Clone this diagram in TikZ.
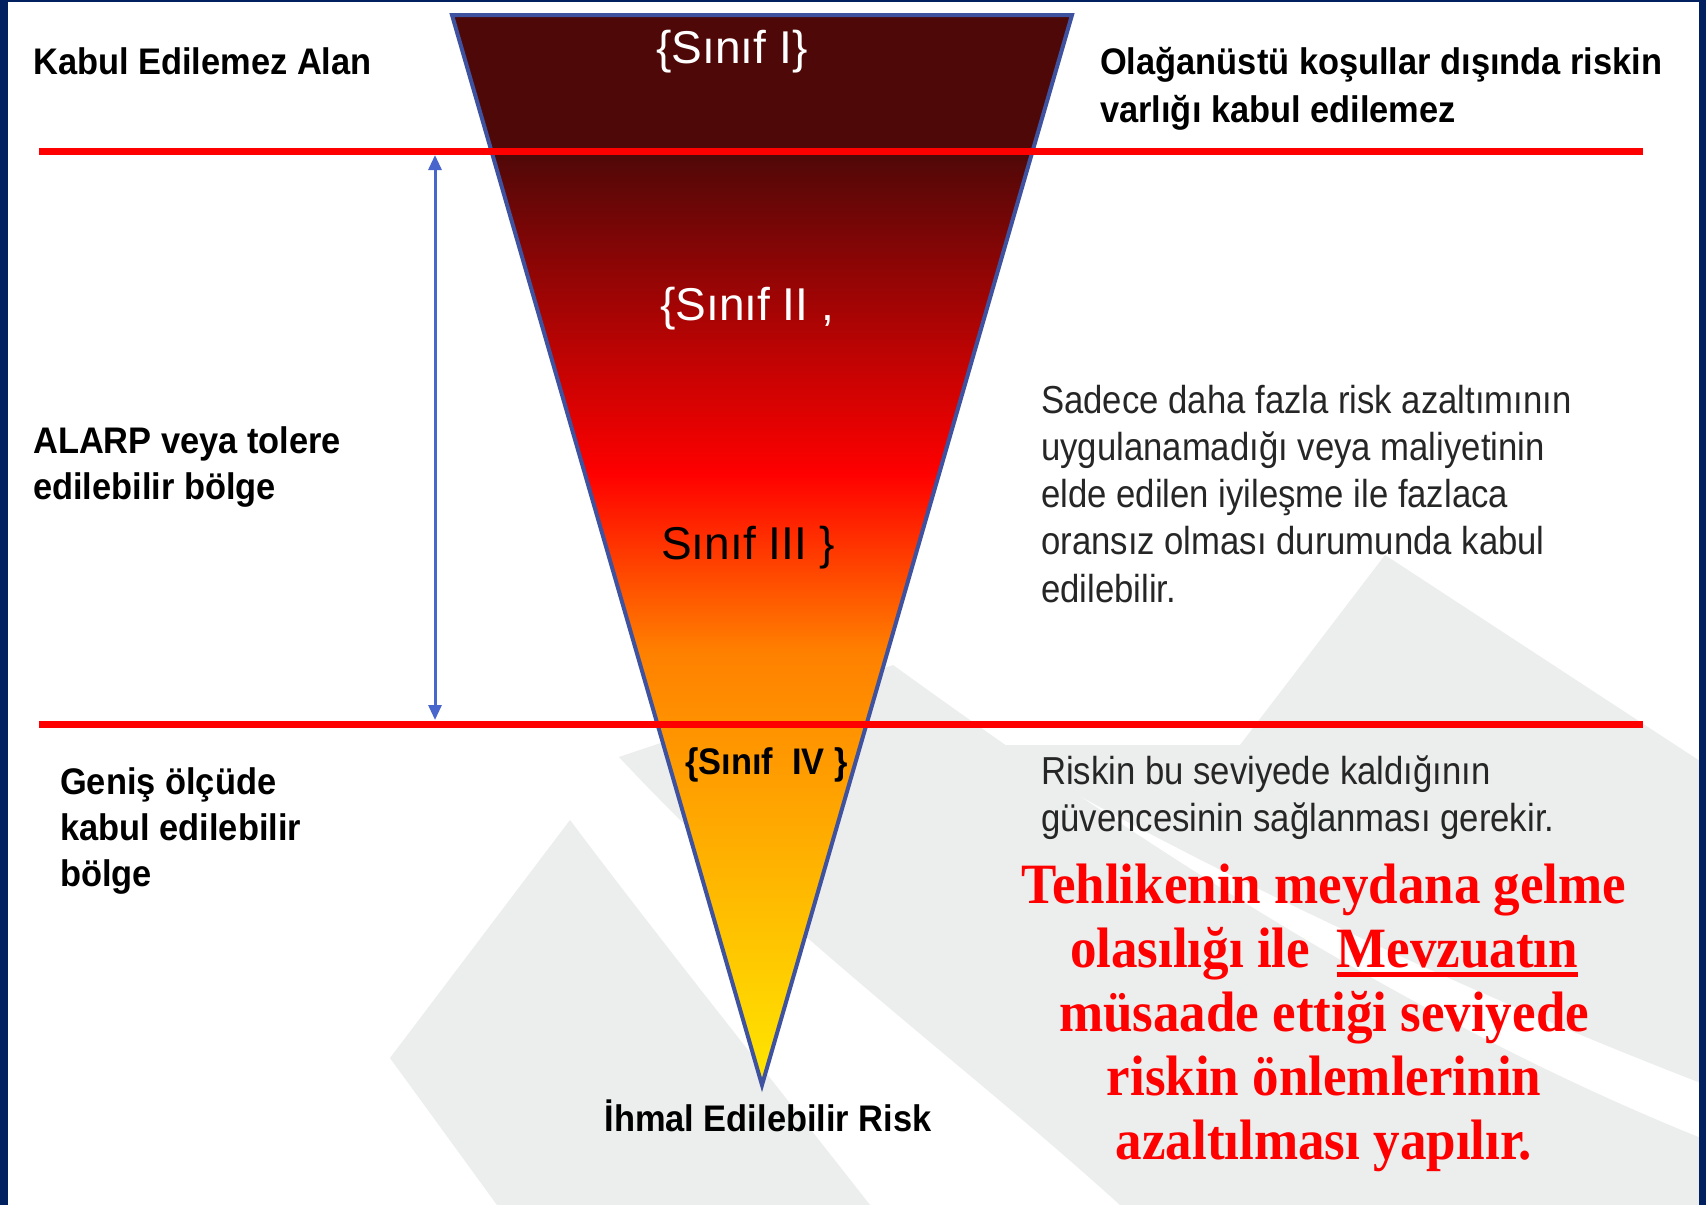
\documentclass[tikz,border=0pt]{standalone}
\usepackage{fontspec}
\setmainfont{Liberation Sans}
\newfontfamily\lblfont[FakeStretch=0.93]{Liberation Sans}
\newfontfamily\parafont[FakeStretch=0.89]{Liberation Sans}
\newfontfamily\notefont[FakeStretch=0.93]{Liberation Serif}
\usetikzlibrary{arrows.meta}

\definecolor{navy}{RGB}{0,32,96}
\definecolor{wmark}{RGB}{236,237,237}
\definecolor{triedge}{RGB}{62,82,160}
\definecolor{arrowblue}{RGB}{72,102,204}
\definecolor{maroon}{RGB}{78,8,8}
\definecolor{orangeA}{RGB}{255,128,0}
\definecolor{yellowA}{RGB}{255,232,0}

\tikzset{
	lbl/.style={font=\lblfont\bfseries\fontsize{37}{40}\selectfont, anchor=base west, inner sep=0pt},
	cls/.style={font=\fontsize{46}{50}\selectfont, anchor=base west, inner sep=0pt},
	para/.style={font=\parafont\fontsize{39}{44}\selectfont, text=black!85, anchor=base west, inner sep=0pt},
	note/.style={font=\notefont\bfseries\fontsize{57}{64}\selectfont, text=red, anchor=base, inner sep=0pt},
	level/.style={red, line width=7pt},
	span/.style={arrowblue, line width=3pt, {Triangle[length=15pt,width=13pt]}-{Triangle[length=15pt,width=13pt]}},
}

\begin{document}
\begin{tikzpicture}[x=1pt, y=-1pt]
	\useasboundingbox (0,0) rectangle (1706,1205);
	\fill[white] (0,0) rectangle (1706,1205);

	% underlined word
	\def\ulword#1{\setbox0=\hbox{#1}\rlap{\rule[-10pt]{\wd0}{5pt}}\box0}

	% watermark
	\fill[wmark] (390,1058) -- (570,820) .. controls (660,940) and (780,1090) .. (870,1205) -- (497,1205) -- cycle;
	\fill[wmark] (619,757) -- (893,665) .. controls (1080,800) and (1380,1010) .. (1706,1140) -- (1706,1205) -- (1120,1205) .. controls (960,1060) and (780,930) .. (619,757) -- cycle;
	\fill[wmark] (1385,555) -- (1706,765) -- (1706,1085) .. controls (1420,975) and (1150,840) .. (990,745) -- (1240,745) -- cycle;

	% frame
	\fill[navy] (0,0) rectangle (8,1205);
	\fill[navy] (0,0) rectangle (1706,2);
	\fill[navy] (1699,0) rectangle (1706,1205);

	% triangle
	\coordinate (tl) at (452,15);
	\coordinate (tr) at (1072,15);
	\coordinate (tip) at (762,1085);
	\begin{scope}
		\clip (tl) -- (tr) -- (tip) -- cycle;
		\foreach \ya/\ca/\yb/\cb in {10/maroon/151/maroon, 150/maroon/474/red, 473/red/651/orangeA, 650/orangeA/1090/yellowA}
			\shade[top color=\ca, bottom color=\cb] (440,\ya) rectangle (1090,\yb);
	\end{scope}
	\draw[triedge, line width=4pt] (tl) -- (tr) -- (tip) -- cycle;

	% levels
	\coordinate (l1w) at (39,151);
	\coordinate (l1e) at (1643,151);
	\coordinate (l2w) at (39,724);
	\coordinate (l2e) at (1643,724);
	\draw[level] (l1w) -- (l1e);
	\draw[level] (l2w) -- (l2e);

	% span arrow
	\coordinate (s1) at (435,155);
	\coordinate (s2) at (435,720);
	\draw[span] (s1) -- (s2);

	% left labels
	\node[lbl] (kabul) at (33,74) {Kabul Edilemez Alan};
	\foreach \txt [count=\i] in {ALARP veya tolere, edilebilir bölge}
		\node[lbl] (alarp\i) at (33,{453+46*(\i-1)}) {\txt};
	\foreach \txt [count=\i] in {Geniş ölçüde, kabul edilebilir, bölge}
		\node[lbl] (genis\i) at (60,{794+46*(\i-1)}) {\txt};
	\node[lbl, anchor=base] (ihmal) at (768,1131) {İhmal Edilebilir Risk};

	% classes
	\node[cls, text=white, anchor=base] (c1) at (732,63) {\{Sınıf I\}};
	\node[cls, text=white] (c2) at (660,320) {\{Sınıf II ,};
	\node[cls] (c3) at (661,559) {Sınıf III \}};
	\node[lbl] (c4) at (685,774) {\{Sınıf\ \ IV \}};

	% right texts
	\foreach \txt [count=\i] in {Olağanüstü koşullar dışında riskin, varlığı kabul edilemez}
		\node[lbl] (olag\i) at (1100,{74+48*(\i-1)}) {\txt};
	\foreach \txt [count=\i] in {Sadece daha fazla risk azaltımının, uygulanamadığı veya maliyetinin, elde edilen iyileşme ile fazlaca, oransız olması durumunda kabul, edilebilir.}
		\node[para] (sadece\i) at (1041,{413+47.3*(\i-1)}) {\txt};
	\foreach \txt [count=\i] in {Riskin bu seviyede kaldığının, güvencesinin sağlanması gerekir.}
		\node[para] (riskin\i) at (1041,{784+47*(\i-1)}) {\txt};

	% note
	\foreach \txt [count=\i] in {{Tehlikenin meydana gelme}, {olasılığı ile\ \ \ulword{Mevzuatın}}, {müsaade ettiği seviyede}, {riskin önlemlerinin}, {azaltılması yapılır.}}
		\node[note] (note\i) at (1324,{903+64*(\i-1)}) {\txt};
\end{tikzpicture}
\end{document}
